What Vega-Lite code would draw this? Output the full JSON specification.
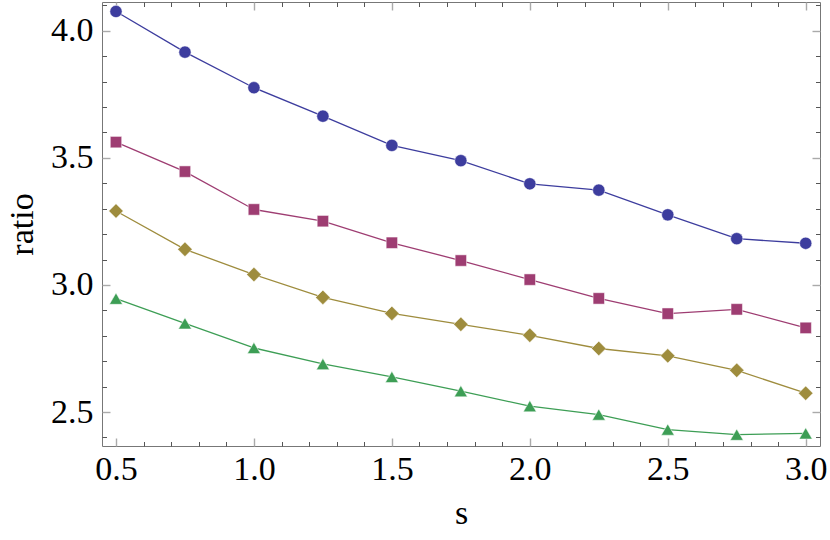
{
  "$schema": "https://vega.github.io/schema/vega-lite/v6.json",
  "width": 718,
  "height": 444,
  "autosize": {"type": "none"},
  "padding": {"left": 102, "top": 2, "right": 10, "bottom": 94},
  "background": "white",
  "config": {
    "view": {"stroke": "#777777", "strokeWidth": 1},
    "axis": {
      "domain": false,
      "grid": false,
      "labelFont": "Liberation Serif",
      "labelFontSize": 34,
      "labelColor": "black",
      "titleFont": "Liberation Serif",
      "titleFontSize": 34,
      "titleFontWeight": "normal",
      "titleColor": "black",
      "labelFlush": false,
      "labelOverlap": false
    }
  },
  "data": {
    "values": [
      {"s": 0.5, "ratio": 4.076, "series": "A"},
      {"s": 0.75, "ratio": 3.916, "series": "A"},
      {"s": 1.0, "ratio": 3.776, "series": "A"},
      {"s": 1.25, "ratio": 3.664, "series": "A"},
      {"s": 1.5, "ratio": 3.549, "series": "A"},
      {"s": 1.75, "ratio": 3.489, "series": "A"},
      {"s": 2.0, "ratio": 3.398, "series": "A"},
      {"s": 2.25, "ratio": 3.373, "series": "A"},
      {"s": 2.5, "ratio": 3.276, "series": "A"},
      {"s": 2.75, "ratio": 3.182, "series": "A"},
      {"s": 3.0, "ratio": 3.164, "series": "A"},
      {"s": 0.5, "ratio": 3.562, "series": "B"},
      {"s": 0.75, "ratio": 3.446, "series": "B"},
      {"s": 1.0, "ratio": 3.297, "series": "B"},
      {"s": 1.25, "ratio": 3.251, "series": "B"},
      {"s": 1.5, "ratio": 3.166, "series": "B"},
      {"s": 1.75, "ratio": 3.096, "series": "B"},
      {"s": 2.0, "ratio": 3.021, "series": "B"},
      {"s": 2.25, "ratio": 2.947, "series": "B"},
      {"s": 2.5, "ratio": 2.887, "series": "B"},
      {"s": 2.75, "ratio": 2.904, "series": "B"},
      {"s": 3.0, "ratio": 2.831, "series": "B"},
      {"s": 0.5, "ratio": 3.291, "series": "C"},
      {"s": 0.75, "ratio": 3.140, "series": "C"},
      {"s": 1.0, "ratio": 3.041, "series": "C"},
      {"s": 1.25, "ratio": 2.951, "series": "C"},
      {"s": 1.5, "ratio": 2.888, "series": "C"},
      {"s": 1.75, "ratio": 2.845, "series": "C"},
      {"s": 2.0, "ratio": 2.802, "series": "C"},
      {"s": 2.25, "ratio": 2.750, "series": "C"},
      {"s": 2.5, "ratio": 2.721, "series": "C"},
      {"s": 2.75, "ratio": 2.664, "series": "C"},
      {"s": 3.0, "ratio": 2.574, "series": "C"},
      {"s": 0.5, "ratio": 2.946, "series": "D"},
      {"s": 0.75, "ratio": 2.849, "series": "D"},
      {"s": 1.0, "ratio": 2.752, "series": "D"},
      {"s": 1.25, "ratio": 2.689, "series": "D"},
      {"s": 1.5, "ratio": 2.638, "series": "D"},
      {"s": 1.75, "ratio": 2.582, "series": "D"},
      {"s": 2.0, "ratio": 2.523, "series": "D"},
      {"s": 2.25, "ratio": 2.490, "series": "D"},
      {"s": 2.5, "ratio": 2.431, "series": "D"},
      {"s": 2.75, "ratio": 2.411, "series": "D"},
      {"s": 3.0, "ratio": 2.416, "series": "D"}
    ]
  },
  "layer": [
    {
      "mark": {"type": "line", "strokeWidth": 1.3, "clip": true},
      "encoding": {
        "x": {"field": "s", "type": "quantitative", "scale": {"domain": [0.4493, 3.0518], "nice": false, "zero": false}, "axis": null},
        "y": {"field": "ratio", "type": "quantitative", "scale": {"domain": [2.3663, 4.1133], "nice": false, "zero": false}, "axis": null},
        "color": {"field": "series", "type": "nominal", "scale": {"domain": ["A", "B", "C", "D"], "range": ["#3d3d9e", "#9e3d72", "#9e8c3d", "#3d9e55"]}, "legend": null}
      }
    },
    {
      "transform": [{"filter": "datum.series === 'A'"}],
      "mark": {"type": "point", "shape": "circle", "size": 150, "filled": true, "opacity": 1, "stroke": "white", "strokeWidth": 0.5},
      "encoding": {
        "x": {"field": "s", "type": "quantitative", "axis": null},
        "y": {"field": "ratio", "type": "quantitative", "axis": null},
        "color": {"field": "series", "type": "nominal", "legend": null}
      }
    },
    {
      "transform": [{"filter": "datum.series === 'B'"}],
      "mark": {"type": "point", "shape": "square", "size": 130, "filled": true, "opacity": 1, "stroke": "white", "strokeWidth": 0.5},
      "encoding": {
        "x": {"field": "s", "type": "quantitative", "axis": null},
        "y": {"field": "ratio", "type": "quantitative", "axis": null},
        "color": {"field": "series", "type": "nominal", "legend": null}
      }
    },
    {
      "transform": [{"filter": "datum.series === 'C'"}],
      "mark": {"type": "point", "shape": "diamond", "size": 210, "filled": true, "opacity": 1, "stroke": "white", "strokeWidth": 0.5},
      "encoding": {
        "x": {"field": "s", "type": "quantitative", "axis": null},
        "y": {"field": "ratio", "type": "quantitative", "axis": null},
        "color": {"field": "series", "type": "nominal", "legend": null}
      }
    },
    {
      "transform": [{"filter": "datum.series === 'D'"}],
      "mark": {"type": "point", "shape": "triangle-up", "size": 170, "filled": true, "opacity": 1, "stroke": "white", "strokeWidth": 0.5},
      "encoding": {
        "x": {"field": "s", "type": "quantitative", "axis": null},
        "y": {"field": "ratio", "type": "quantitative", "axis": null},
        "color": {"field": "series", "type": "nominal", "legend": null}
      }
    },
    {
      "mark": {"type": "point", "opacity": 0},
      "encoding": {
        "x": {"field": "s", "type": "quantitative", "axis": {"orient": "bottom", "values": [0.5, 1.0, 1.5, 2.0, 2.5, 3.0], "format": ".1f", "tickSize": -8, "tickColor": "#aaaaaa", "tickWidth": 1.4, "labelPadding": 14, "title": "s", "titleX": 359, "titleY": 67, "titleBaseline": "middle", "titleAnchor": "middle"}},
        "y": {"field": "ratio", "type": "quantitative", "axis": {"orient": "left", "values": [2.5, 3.0, 3.5, 4.0], "format": ".1f", "tickSize": -8, "tickColor": "#aaaaaa", "tickWidth": 1.4, "labelPadding": 17, "title": "ratio", "titleX": -80, "titleY": 222, "titleAngle": -90, "titleBaseline": "middle", "titleAnchor": "middle"}}
      }
    },
    {
      "mark": {"type": "point", "opacity": 0},
      "encoding": {
        "x": {"field": "s", "type": "quantitative", "axis": {"orient": "bottom", "values": [0.6, 0.7, 0.8, 0.9, 1.1, 1.2, 1.3, 1.4, 1.6, 1.7, 1.8, 1.9, 2.1, 2.2, 2.3, 2.4, 2.6, 2.7, 2.8, 2.9], "labels": false, "tickSize": -4.5, "tickColor": "#555555", "tickWidth": 1, "title": null}},
        "y": {"field": "ratio", "type": "quantitative", "axis": {"orient": "left", "values": [2.4, 2.6, 2.7, 2.8, 2.9, 3.1, 3.2, 3.3, 3.4, 3.6, 3.7, 3.8, 3.9, 4.1], "labels": false, "tickSize": -4.5, "tickColor": "#555555", "tickWidth": 1, "title": null}}
      }
    },
    {
      "mark": {"type": "point", "opacity": 0},
      "encoding": {
        "x": {"field": "s", "type": "quantitative", "axis": {"orient": "top", "values": [0.5, 1.0, 1.5, 2.0, 2.5, 3.0], "labels": false, "tickSize": -8, "tickColor": "#aaaaaa", "tickWidth": 1.4, "title": null}},
        "y": {"field": "ratio", "type": "quantitative", "axis": {"orient": "right", "values": [2.5, 3.0, 3.5, 4.0], "labels": false, "tickSize": -8, "tickColor": "#aaaaaa", "tickWidth": 1.4, "title": null}}
      }
    },
    {
      "mark": {"type": "point", "opacity": 0},
      "encoding": {
        "x": {"field": "s", "type": "quantitative", "axis": {"orient": "top", "values": [0.6, 0.7, 0.8, 0.9, 1.1, 1.2, 1.3, 1.4, 1.6, 1.7, 1.8, 1.9, 2.1, 2.2, 2.3, 2.4, 2.6, 2.7, 2.8, 2.9], "labels": false, "tickSize": -4.5, "tickColor": "#555555", "tickWidth": 1, "title": null}},
        "y": {"field": "ratio", "type": "quantitative", "axis": {"orient": "right", "values": [2.4, 2.6, 2.7, 2.8, 2.9, 3.1, 3.2, 3.3, 3.4, 3.6, 3.7, 3.8, 3.9, 4.1], "labels": false, "tickSize": -4.5, "tickColor": "#555555", "tickWidth": 1, "title": null}}
      }
    }
  ],
  "resolve": {"axis": {"x": "independent", "y": "independent"}}
}
